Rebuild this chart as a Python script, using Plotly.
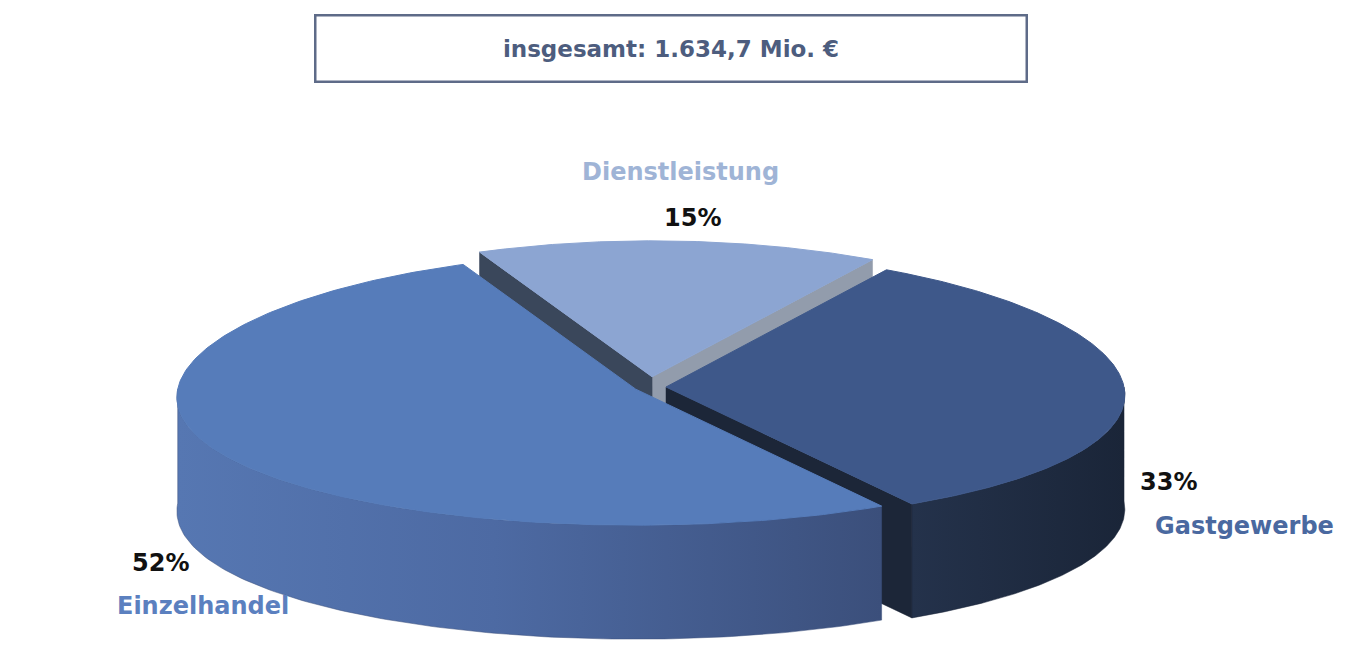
import numpy as np
import plotly.graph_objects as go

# ---- data ----
categories = ["Einzelhandel", "Gastgewerbe", "Dienstleistung"]
shares = [52, 33, 15]
pct_labels = ["52%", "33%", "15%"]
total_label = "insgesamt: 1.634,7 Mio. €"

# ---- style / geometry ----
W, H = 1358, 646
OFF = 8                    # compensate the page's body margin
CX, CY = 650, 387          # pie centre (pixels)
RX, RY = 458, 136          # ellipse radii of the top face
DEPTH = 114                # thickness of the pie
START = 113.5              # angle (deg, CCW) where first slice starts
PULL = [0.035, 0.035, 0.075]
PERSP = 0.06               # slight perspective: back is narrower
top_col = ["#567cba", "#3e588a", "#8ca5d2"]
side_scale = [
    [[0, "#5677b2"], [0.45, "#4d6aa3"], [1, "#3b4f7b"]],
    [[0, "#24324b"], [1, "#1a2538"]],
    [[0, "#6f86ad"], [1, "#6f86ad"]],
]
start_wall_col = ["#33415a", "#1c2638", "#929cac"]
end_wall_col = ["#33415a", "#1c2638", "#3a475b"]
name_col = ["#5b80bf", "#4a69a0", "#9fb4d6"]
FONT = "DejaVu Sans"

fig = go.Figure()


def pt(cx, cy, ang, dy=0.0):
    a = np.radians(ang)
    s = 1 - PERSP * np.sin(a)
    return cx + RX * np.cos(a) * s, cy - RY * np.sin(a) + dy


# slice angles
total = sum(shares)
angles = []
a0 = START
for v in shares:
    a1 = a0 + v / total * 360.0
    angles.append((a0, a1))
    a0 = a1

slices = []
for i, (a, b) in enumerate(angles):
    mid = np.radians((a + b) / 2)
    cx = CX + PULL[i] * RX * np.cos(mid)
    cy = CY - PULL[i] * RY * np.sin(mid)
    slices.append((cx, cy, a, b))

draw_order = [2, 1, 0]  # back to front
for i in draw_order:
    cx, cy, a, b = slices[i]
    # radial walls
    walls = []
    if np.cos(np.radians(a)) > 0:
        walls.append((a, start_wall_col[i]))
    if np.cos(np.radians(b)) < 0:
        walls.append((b, end_wall_col[i]))
    for ang, col in walls:
        ex, ey = pt(cx, cy, ang)
        fig.add_trace(go.Scatter(
            x=[cx, ex, ex, cx, cx], y=[cy, ey, ey + DEPTH, cy + DEPTH, cy],
            mode="lines", fill="toself", fillcolor=col,
            line=dict(width=0.5, color=col), hoverinfo="skip", showlegend=False))
    # outer curved side (front half only)
    for k in range(-1, 3):
        lo = max(a, 180 + 360 * k)
        hi = min(b, 360 + 360 * k)
        if hi > lo:
            t = np.linspace(lo, hi, 120)
            xs, ys = pt(cx, cy, t)
            px = np.concatenate([xs, xs[::-1], xs[:1]])
            py = np.concatenate([ys, ys[::-1] + DEPTH, ys[:1]])
            fig.add_trace(go.Scatter(
                x=px, y=py, mode="lines", fill="toself",
                fillgradient=dict(type="horizontal", colorscale=side_scale[i]),
                line=dict(width=0.5, color=side_scale[i][-1][1]),
                hoverinfo="skip", showlegend=False))
    # top face
    t = np.linspace(a, b, 240)
    xs, ys = pt(cx, cy, t)
    px = np.concatenate([[cx], xs, [cx]])
    py = np.concatenate([[cy], ys, [cy]])
    fig.add_trace(go.Scatter(
        x=px, y=py, mode="lines", fill="toself", fillcolor=top_col[i],
        line=dict(width=1, color=top_col[i]), name=categories[i],
        hoverinfo="name", showlegend=False))

# labels
name_pos = [(203, 606), (1244, 526), (680, 172)]
pct_pos = [(160, 563), (1168, 482), (692, 218)]
for i in range(3):
    fig.add_annotation(x=name_pos[i][0], y=name_pos[i][1], text=categories[i],
                       showarrow=False, xref="x", yref="y",
                       font=dict(family=FONT, size=24, color=name_col[i], weight="bold"))
    fig.add_annotation(x=pct_pos[i][0], y=pct_pos[i][1], text=pct_labels[i],
                       showarrow=False, xref="x", yref="y",
                       font=dict(family=FONT, size=24, color="#111111", weight="bold"))

# total box
fig.add_annotation(x=671, y=48, text=total_label, showarrow=False, xref="x", yref="y",
                   width=707, height=62, bordercolor="#5e6b88", borderwidth=2.5,
                   bgcolor="#ffffff",
                   font=dict(family=FONT, size=23, color="#4d5d7e", weight="bold"))

fig.update_layout(
    width=W, height=H, margin=dict(l=0, r=0, t=0, b=0),
    paper_bgcolor="white", plot_bgcolor="white",
    xaxis=dict(range=[OFF, W + OFF], visible=False, fixedrange=True),
    yaxis=dict(range=[H + OFF, OFF], visible=False, fixedrange=True),
)
fig.write_html("out.html")
